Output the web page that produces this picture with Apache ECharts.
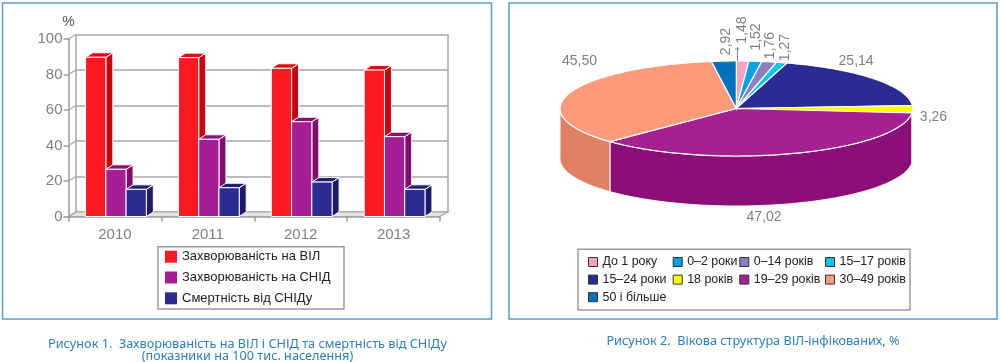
<!DOCTYPE html>
<html><head><meta charset="utf-8">
<script src="https://cdn.jsdelivr.net/npm/echarts@6/dist/echarts.min.js"></script>
<style>html,body{margin:0;padding:0;background:#fff}#c{width:1000px;height:362px}</style>
</head><body><div id="c"></div>
<script>
// ---------- data ----------
const years = ['2010', '2011', '2012', '2013'];
const hivIncidence = [89.7, 89.5, 83.5, 82.5];
const aidsIncidence = [26.6, 43.5, 53.4, 45.0];
const aidsMortality = [15.3, 16.2, 19.4, 15.3];
const barSeriesNames = ['Захворюваність на ВІЛ', 'Захворюваність на СНІД', 'Смертність від СНІДу'];
const yMin = 0, yMax = 100, yStep = 20;

const ageGroups = ['До 1 року', '0–2 роки', '0–14 років', '15–17 років', '15–24 роки', '18 років', '19–29 років', '30–49 років', '50 і більше'];
const ageShares = [1.48, 1.52, 1.76, 1.27, 25.14, 3.26, 47.02, 45.50, 2.92];

const caption1a = 'Рисунок 1.  Захворюваність на ВІЛ і СНІД та смертність від СНІДу';
const caption1b = '(показники на 100 тис. населення)';
const caption2 = 'Рисунок 2.  Вікова структура ВІЛ-інфікованих, %';

// ---------- styles / layout ----------
const FONT = '"Liberation Sans", Arial, sans-serif';
const CAP_FONT = '"Noto Sans", sans-serif';
const barFront = ['#ff1a22', '#a61e93', '#2b2b92'];
const barSide = ['#cc000c', '#820b6e', '#1b1b6a'];
const barTop = ['#e3000f', '#8a1075', '#1f1f72'];
const BD = { dx: 7, dy: 4.5 };

const pieTop = ['#f7a1c4', '#00a2e8', '#8b80c4', '#00c8f2', '#2b2b94', '#ffff00', '#a6208f', '#fc9a7a', '#0072bc'];
const pieSide = ['#d98aa9', '#0087c2', '#726aa5', '#00a8cc', '#1f1f74', '#dede00', '#8c0f78', '#e07f63', '#005c9a'];
const PIE = { cx: 736.3, cy: 108.5, rx: 176.3, ry: 47.5, depth: 50 };
const labelVertical = [true, true, true, true, false, false, false, false, true];
const labelOffsets = [[-0.6, -31], [1.1, -24.3], [0.8, -16.3], [3.7, -15.1], [-18.3, -18], [20.9, 7.4], [-30.8, 64.2], [10, -32.2], [2.1, -19.6]];

// ---------- helpers ----------
function ept(t, dz) {
  const r = t * Math.PI / 180;
  return [PIE.cx + PIE.rx * Math.cos(r), PIE.cy - PIE.ry * Math.sin(r) + (dz || 0)];
}
function arc(a, b, dz) { // from angle a down to b (a > b)
  const pts = [];
  const n = Math.max(2, Math.ceil((a - b) / 1));
  for (let k = 0; k <= n; k++) pts.push(ept(a - (a - b) * k / n, dz));
  return pts;
}
const total = ageShares.reduce((s, v) => s + v, 0);
function sliceAngles(i) {
  let cum = 0;
  for (let k = 0; k < i; k++) cum += ageShares[k];
  const a = 90 - 360 * cum / total;
  const b = a - 360 * ageShares[i] / total;
  return [a, b];
}
function fmt(v) { return v.toFixed(2).replace('.', ','); }

function makeSlice(i) {
  return function (params, api) {
    const v = api.value(0);
    const [a, b] = sliceAngles(i);
    const children = [];
    for (let k = -1; k <= 1; k++) {
      const lo = Math.max(b, -180 + 360 * k), hi = Math.min(a, 360 * k);
      if (hi > lo) {
        const top = arc(hi, lo, 0);
        const bot = arc(hi, lo, PIE.depth).reverse();
        children.push({ type: 'polygon', z2: 1, shape: { points: top.concat(bot) },
          style: { fill: pieSide[i], stroke: '#ffffff', lineWidth: 1 } });
      }
    }
    children.push({ type: 'polygon', z2: 10, shape: { points: [[PIE.cx, PIE.cy]].concat(arc(a, b, 0)) },
      style: { fill: pieTop[i], stroke: '#ffffff', lineWidth: 1.2 } });
    const mid = (a + b) / 2;
    const p = ept(mid, 0);
    const lx = p[0] + labelOffsets[i][0], ly = p[1] + labelOffsets[i][1];
    children.push({ type: 'text', z2: 20, x: lx, y: ly, rotation: labelVertical[i] ? Math.PI / 2 : 0,
      style: { text: fmt(v), fill: '#808080', font: '14px ' + FONT, align: 'center', verticalAlign: 'middle' } });
    if (i === 0) {
      const q = ept(89.6, 0);
      children.push({ type: 'line', z2: 20, shape: { x1: q[0], y1: q[1], x2: q[0], y2: q[1] - 14 }, style: { stroke: '#808080', lineWidth: 1 } });
      children.push({ type: 'line', z2: 20, shape: { x1: q[0] - 2.5, y1: q[1] - 12, x2: q[0] + 2, y2: q[1] - 12 }, style: { stroke: '#808080', lineWidth: 1 } });
    }
    return { type: 'group', children };
  };
}

function makeBar(s) {
  return function (params, api) {
    const cat = api.value(0), v = api.value(1);
    const top = api.coord([cat, v]);
    const base = api.coord([cat, 0]);
    const band = api.size([1, 0])[0];
    const bw = band * 0.218;
    const c = top[0] + band * 0.011 + (s - 1) * bw;
    const x0 = c - bw / 2, x1 = c + bw / 2, yT = top[1], yB = base[1];
    const st = { stroke: '#ffffff', lineWidth: 1 };
    return { type: 'group', children: [
      { type: 'polygon', shape: { points: [[x1, yT], [x1 + BD.dx, yT - BD.dy], [x1 + BD.dx, yB - BD.dy], [x1, yB]] }, style: Object.assign({ fill: barSide[s] }, st) },
      { type: 'polygon', shape: { points: [[x0, yT], [x0 + BD.dx, yT - BD.dy], [x1 + BD.dx, yT - BD.dy], [x1, yT]] }, style: Object.assign({ fill: barTop[s] }, st) },
      { type: 'rect', shape: { x: x0, y: yT, width: bw, height: yB - yT }, style: Object.assign({ fill: barFront[s] }, st) }
    ] };
  };
}

function renderDecor(params, api) {
  const cs = params.coordSys;
  const x = cs.x, y = cs.y, w = cs.width, h = cs.height;
  const ch = [{ type: 'polygon', shape: { points: [[x, y + h], [x + w, y + h], [x + w + 7.5, y + h - 4.5], [x + 7.5, y + h - 4.5]] },
    style: { fill: '#e4e4e4', stroke: '#a6a6a6', lineWidth: 1.2 } }];
  for (let v = yMin; v <= yMax; v += yStep) {
    const yy = api.coord([0, v])[1];
    ch.push({ type: 'line', shape: { x1: x, y1: yy, x2: x + 7.5, y2: yy - 4.5 }, style: { stroke: '#a6a6a6', lineWidth: 1.2 } });
  }
  return { type: 'group', silent: true, children: ch };
}

// ---------- option ----------
const axisLineStyle = { color: '#9a9a9a', width: 1.5 };
const series = [
  { type: 'custom', name: '_decor', xAxisIndex: 0, yAxisIndex: 0, data: [[0, 0]], renderItem: renderDecor, z: 1, silent: true }
];
[hivIncidence, aidsIncidence, aidsMortality].forEach((arr, s) => {
  series.push({ type: 'custom', name: barSeriesNames[s], xAxisIndex: 0, yAxisIndex: 0,
    itemStyle: { color: barFront[s] }, data: years.map((yv, i) => [i, arr[i]]), renderItem: makeBar(s), z: 3 + s });
});
ageGroups.forEach((g, i) => {
  series.push({ type: 'custom', name: g, coordinateSystem: 'none', itemStyle: { color: pieTop[i] },
    data: [ageShares[i]], renderItem: makeSlice(i), z: 2 });
});

const legendText = { color: '#222', fontSize: 13, fontFamily: FONT };
const legendText2 = { color: '#222', fontSize: 12.4, fontFamily: FONT };
const rightCols = [[0, 4, 8], [1, 5], [2, 6], [3, 7]];
const rightColX = [588, 672.7, 739.3, 825];
const legends = [{
  orient: 'vertical', left: 165, top: 250.2, itemWidth: 12, itemHeight: 12, itemGap: 7.8, padding: 0,
  icon: 'rect', selectedMode: false, data: barSeriesNames, textStyle: legendText
}];
rightCols.forEach((col, k) => {
  legends.push({ orient: 'vertical', left: rightColX[k], top: 256, itemWidth: 9, itemHeight: 9, itemGap: 5.6, padding: 0,
    icon: 'rect', selectedMode: false, data: col.map(i => ageGroups[i]), textStyle: legendText2,
    itemStyle: { borderColor: '#333', borderWidth: 1 } });
});

const option = {
  animation: false,
  backgroundColor: '#ffffff',
  grid: [
    { left: 68.5, top: 39, width: 371.5, height: 177.5 },
    { left: 76, top: 34.5, width: 371.5, height: 177.5 }
  ],
  xAxis: [
    { gridIndex: 0, type: 'category', data: years, axisLine: { lineStyle: axisLineStyle },
      axisTick: { show: true, length: 5, lineStyle: axisLineStyle },
      axisLabel: { color: '#808080', fontSize: 15, fontFamily: FONT, margin: 11 } },
    { gridIndex: 1, type: 'category', data: years, show: false }
  ],
  yAxis: [
    { gridIndex: 0, type: 'value', min: yMin, max: yMax, interval: yStep, name: '%', nameLocation: 'end', nameGap: 10,
      nameTextStyle: { color: '#555', fontSize: 14, fontFamily: FONT },
      axisLine: { show: true, lineStyle: axisLineStyle }, axisTick: { show: true, length: 5, lineStyle: axisLineStyle },
      axisLabel: { color: '#808080', fontSize: 15, fontFamily: FONT, margin: 6 }, splitLine: { show: false } },
    { gridIndex: 1, type: 'value', min: yMin, max: yMax, interval: yStep,
      axisLine: { show: true, lineStyle: { color: '#a6a6a6', width: 1.5 } }, axisTick: { show: false }, axisLabel: { show: false },
      splitLine: { show: true, lineStyle: { color: '#a6a6a6', width: 1.5 } } },
    { gridIndex: 1, type: 'value', position: 'right', min: yMin, max: yMax, interval: yStep,
      axisLine: { show: true, lineStyle: { color: '#a6a6a6', width: 1.5 } }, axisTick: { show: false }, axisLabel: { show: false },
      splitLine: { show: false } }
  ],
  legend: legends,
  graphic: [
    { type: 'rect', silent: true, shape: { x: 2.5, y: 3, width: 489, height: 316 }, style: { fill: 'none', stroke: '#5b9bd5', lineWidth: 1.5 } },
    { type: 'rect', silent: true, shape: { x: 509, y: 3, width: 488, height: 316 }, style: { fill: 'none', stroke: '#5b9bd5', lineWidth: 1.5 } },
    { type: 'rect', silent: true, shape: { x: 158, y: 246.7, width: 186, height: 62.3 }, style: { fill: 'none', stroke: '#9a9a9a', lineWidth: 1.5 } },
    { type: 'rect', silent: true, shape: { x: 578, y: 249.3, width: 332, height: 60.7 }, style: { fill: 'none', stroke: '#9a9a9a', lineWidth: 1.5 } },
    { type: 'text', silent: true, x: 247.5, y: 344, style: { text: caption1a, fill: '#2a7fc1', font: '12.7px ' + CAP_FONT, align: 'center', verticalAlign: 'middle' } },
    { type: 'text', silent: true, x: 247.5, y: 356.5, style: { text: caption1b, fill: '#2a7fc1', font: '12.7px ' + CAP_FONT, align: 'center', verticalAlign: 'middle' } },
    { type: 'text', silent: true, x: 753, y: 341.7, style: { text: caption2, fill: '#2a7fc1', font: '12.7px ' + CAP_FONT, align: 'center', verticalAlign: 'middle' } }
  ],
  series: series
};
const chart = echarts.init(document.getElementById('c'), null, { renderer: 'canvas' });
chart.setOption(option);
</script></body></html>
